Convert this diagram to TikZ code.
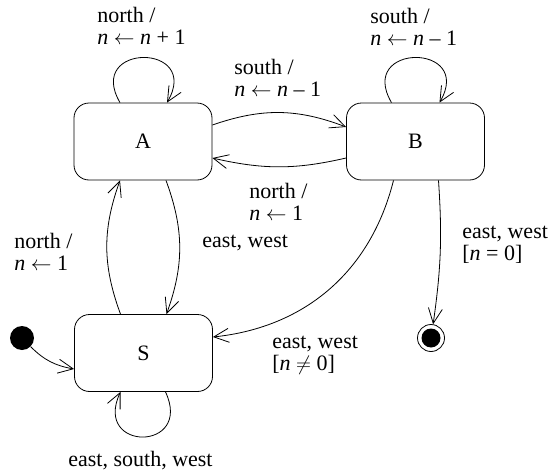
\documentclass[tikz,border=0pt]{standalone}
\usepackage{fontspec}
\setmainfont{Liberation Serif}
\usetikzlibrary{arrows.meta}
\begin{document}
\begin{tikzpicture}[x=1pt,y=-1pt,line width=0.8pt,
  every node/.style={font=\fontsize{22}{22}\selectfont},
  state/.style={draw, rounded corners=15pt, minimum width=138pt, minimum height=77pt, inner sep=0pt},
  trans/.style={-{Straight Barb[length=15pt,width=14pt,line width=0.8pt]}},
  lbl/.style={anchor=base west, align=left, inner sep=0pt}]
\useasboundingbox (0,0) rectangle (550,474);
\node[state] (A) at (143,141.5) {A};
\node[state] (B) at (415.5,141.5) {B};
\node[state] (S) at (143.5,353) {S};
\node[circle, fill, minimum size=24pt, inner sep=0pt] (I) at (22,338) {};
\node[circle, draw, minimum size=27pt, inner sep=0pt,
  path picture={\fill (path picture bounding box.center) circle (9.5pt);}] (F) at (431,338) {};
% transitions
\draw[trans] ([yshift=16.5pt]A.east) to[bend left=20] ([yshift=14.5pt]B.west);
\draw[trans] ([yshift=-16.5pt]B.west) to[bend left=13] ([yshift=-16.5pt]A.east);
\draw[trans] ([xshift=-23pt]S.north) to[bend left=20] ([xshift=-23pt]A.south);
\draw[trans] ([xshift=23pt]A.south) to[bend left=20] ([xshift=23pt]S.north);
\draw[trans] ([xshift=-22pt]B.south) to[bend left=35] ([yshift=16pt]S.east);
\draw[trans] ([xshift=23pt]B.south) to[bend left=6] (F);
\draw[trans] (I) to[out=-45,in=170] ([yshift=-16pt]S.west);
% self loops
\draw[trans] ([xshift=-23pt]A.north) .. controls +(-35,-60) and +(35,-60) .. ([xshift=24pt]A.north);
\draw[trans] ([xshift=-24pt]B.north) .. controls +(-35,-60) and +(35,-60) .. ([xshift=24pt]B.north);
\draw[trans] ([xshift=22pt]S.south) .. controls +(28,60) and +(-28,60) .. ([xshift=-23pt]S.south);
% labels (base = baseline of last line)
\node[lbl] (lA) at (97,44) {north /\\\textit{n} $\leftarrow$ \textit{n} + 1};
\node[lbl] (lB) at (370,45) {south /\\\textit{n} $\leftarrow$ \textit{n} \textendash\ 1};
\node[lbl] (lAB) at (234,96) {south /\\\textit{n} $\leftarrow$ \textit{n} \textendash\ 1};
\node[lbl] (lBA) at (249,220) {north /\\\textit{n} $\leftarrow$ 1};
\node[lbl] (lAS) at (202,247) {east, west};
\node[lbl] (lSA) at (14,270) {north /\\\textit{n} $\leftarrow$ 1};
\node[lbl] (lBF) at (462,260) {east, west\\{[}\textit{n} = 0]};
\node[lbl] (lBS) at (272,370) {east, west\\{[}\textit{n} $\neq$ 0]};
\node[lbl] (lSS) at (68,466) {east, south, west};
\end{tikzpicture}
\end{document}
